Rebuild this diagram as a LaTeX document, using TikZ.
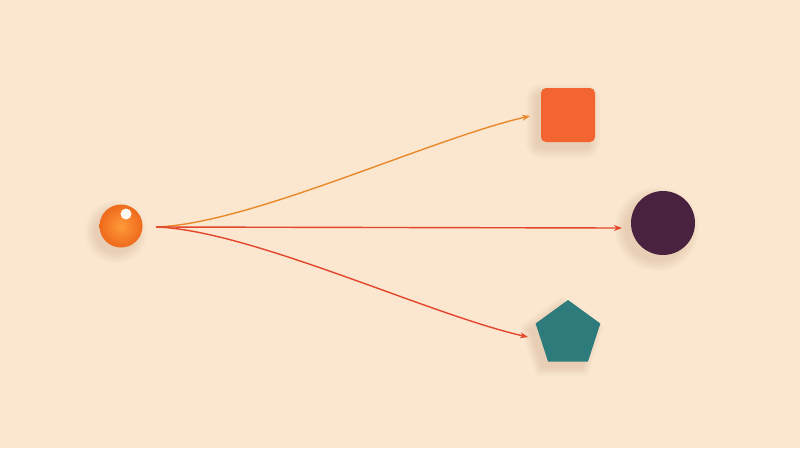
\documentclass[tikz,border=0pt]{standalone}
\usetikzlibrary{arrows.meta,shapes.geometric}
\definecolor{bg}{HTML}{FBE6D0}
\definecolor{ballin}{HTML}{FF9A3A}
\definecolor{ballout}{HTML}{EE6A1C}
\definecolor{sqc}{HTML}{F26430}
\definecolor{circc}{HTML}{48223F}
\definecolor{pentc}{HTML}{2E7B7B}
\definecolor{orangeline}{HTML}{E8892A}
\definecolor{redline}{HTML}{E2472C}
\definecolor{shadowc}{HTML}{A07850}
\tikzset{
  shp/.style={draw=none, inner sep=0pt},
  shd/.style={fill=shadowc, fill opacity=0.035, draw=none},
  conn/.style={line width=1.4pt, -{Stealth[length=8pt,width=6pt]}}
}
\begin{document}
\begin{tikzpicture}[x=1pt,y=-1pt]
\fill[bg] (0,0) rectangle (800,448);
\useasboundingbox (0,0) rectangle (800,448);
% soft shadows
\foreach \r in {0,2,...,10} {
  \fill[shd] (116,232) circle ({21+\r});
  \fill[shd, rounded corners={5+\r}] ({541-5-\r},{88+6-\r}) rectangle ({595-5+\r},{142+6+\r});
  \fill[shd] (657,229) circle ({32+\r});
  \node[shd, regular polygon, regular polygon sides=5, minimum size={68+2*\r}, inner sep=0pt] at (562,340) {};
}
% ball
\node[shp, circle, minimum size=43pt, inner color=ballin, outer color=ballout] (ball) at (121,226) {};
\fill[white, opacity=0.95] (126,214) circle (5.5);
% shapes
\node[shp, rectangle, rounded corners=5pt, fill=sqc, minimum size=54pt] (sq) at (568,115) {};
\node[shp, circle, fill=circc, minimum size=64pt] (circ) at (663,223) {};
\node[shp, regular polygon, regular polygon sides=5, fill=pentc, minimum size=68pt] (pent) at (568,334) {};
\coordinate (start) at (156,227);
\coordinate (e1) at (530,116);
\coordinate (e2) at (622,228);
\coordinate (e3) at (528,337);
\draw[conn, orangeline] (start) .. controls (250,224) and (430,139) .. (e1);
\draw[conn, redline] (start) -- (e2);
\draw[conn, redline] (start) .. controls (250,230) and (430,315) .. (e3);
\end{tikzpicture}
\end{document}
